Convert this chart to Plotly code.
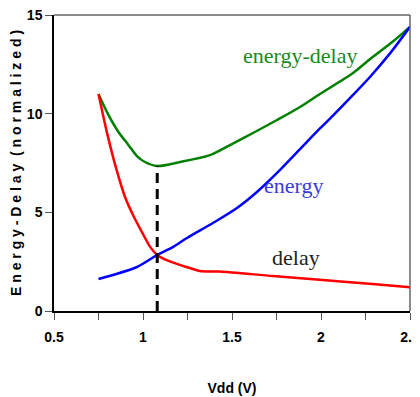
import plotly.graph_objects as go

# Data
vdd_energy_delay = [0.75, 0.805, 0.86, 0.917, 0.966, 1.011, 1.08, 1.208, 1.376, 1.489, 1.618, 1.753,
                    1.882, 1.994, 2.18, 2.29, 2.40, 2.5]
energy_delay = [11.0, 9.95, 9.1, 8.43, 7.85, 7.55, 7.35, 7.55, 7.9, 8.41, 9.02, 9.68,
                10.34, 11.0, 12.06, 12.87, 13.63, 14.4]

vdd_energy = [0.75, 0.966, 1.08, 1.17, 1.247, 1.393, 1.528, 1.64, 1.77, 1.882, 1.994,
              2.067, 2.18, 2.275, 2.39, 2.5]
energy = [1.62, 2.23, 2.84, 3.25, 3.70, 4.46, 5.22, 6.03, 7.15, 8.2, 9.25,
          9.9, 10.95, 11.86, 13.08, 14.4]

vdd_delay = [0.75, 0.80, 0.85, 0.90, 0.95, 1.00, 1.04, 1.08, 1.14, 1.22, 1.32, 1.43,
             1.73, 2.01, 2.29, 2.5]
delay = [11.0, 8.95, 7.2, 5.75, 4.75, 3.9, 3.25, 2.84, 2.55, 2.3, 2.03, 2.0,
         1.77, 1.57, 1.37, 1.2]

vdd_opt = 1.08
ed_min = 7.35

labels = ["energy-delay", "energy", "delay"]
label_x = [1.882, 1.843, 1.86]
label_y = [12.97, 6.34, 2.69]
label_colors = ["#1a8a1a", "#3b3bd6", "#222222"]

font_fam = "Liberation Sans Narrow, Liberation Sans, Arial"

fig = go.Figure()
fig.add_trace(go.Scatter(x=vdd_energy_delay, y=energy_delay, mode="lines",
                         line=dict(color="#008000", width=2.5, shape="spline", smoothing=0.8)))
fig.add_trace(go.Scatter(x=vdd_energy, y=energy, mode="lines",
                         line=dict(color="#0000ff", width=2.5, shape="spline", smoothing=0.8)))
fig.add_trace(go.Scatter(x=vdd_delay, y=delay, mode="lines",
                         line=dict(color="#ff0000", width=2.5, shape="spline", smoothing=0.8)))
fig.add_trace(go.Scatter(x=[vdd_opt, vdd_opt], y=[0, ed_min], mode="lines",
                         line=dict(color="black", width=3, dash="10px,6px")))

for t, xx, yy, c in zip(labels, label_x, label_y, label_colors):
    fig.add_annotation(x=xx, y=yy, text=t, showarrow=False,
                       font=dict(family="Liberation Serif, Times New Roman, serif", size=22, color=c))

# page body has an 8px margin, so the figure is placed 8px in and down
fig.update_layout(
    width=412, height=389,
    margin=dict(l=46, r=10, t=7, b=86),
    paper_bgcolor="white", plot_bgcolor="white",
    showlegend=False,
    xaxis=dict(range=[0.5, 2.5], dtick=0.5, tick0=0.5, showgrid=False, zeroline=False,
               automargin=False, ticklabeloverflow="allow",
               showline=True, linecolor="black", linewidth=1.5,
               ticks="outside", ticklen=7, tickcolor="#555", tickwidth=1,
               ticklabelstandoff=5,
               minor=dict(dtick=0.25, ticks="outside", ticklen=7, tickcolor="#555", tickwidth=1),
               tickfont=dict(family=font_fam, size=14, color="black", weight="bold"),
               title=dict(text="Vdd (V)", standoff=40,
                          font=dict(family=font_fam, size=14, color="black", weight="bold"))),
    yaxis=dict(range=[0, 15], dtick=5, showgrid=False, zeroline=False,
               automargin=False, ticklabeloverflow="allow",
               showline=True, linecolor="black", linewidth=1.5,
               ticks="outside", ticklen=7, tickcolor="#555", tickwidth=1,
               tickfont=dict(family=font_fam, size=14, color="black", weight="bold"),
               title=dict(text="E n e r g y - D e l a y  ( n o r m a l i z e d )", standoff=4,
                          font=dict(family=font_fam, size=14, color="black", weight="bold"))),
    shapes=[
        dict(type="line", xref="paper", yref="paper", x0=0, x1=1, y0=1, y1=1,
             line=dict(color="#666", width=1.5)),
        dict(type="line", xref="paper", yref="paper", x0=1, x1=1, y0=0, y1=1,
             line=dict(color="#666", width=1.5)),
    ],
)

fig.write_html("out.html")
